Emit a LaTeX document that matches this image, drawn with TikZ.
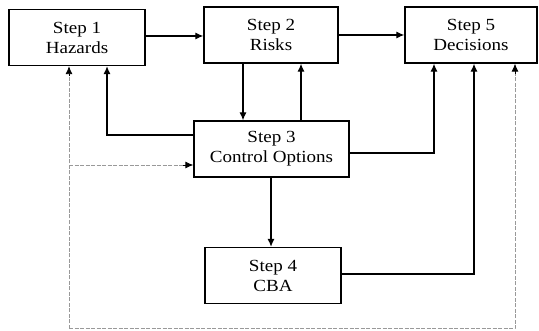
\documentclass[tikz,border=0pt]{standalone}
\usepackage{fontspec}
\setmainfont[FakeStretch=1.12]{Liberation Serif}
\usetikzlibrary{arrows.meta}
\begin{document}
\begin{tikzpicture}[x=1pt,y=1pt,
  stepbox/.style={draw, line width=1.3pt, minimum width=#1, minimum height=56pt, inner sep=0pt, align=center,
    font=\fontsize{17}{20}\selectfont},
  arr/.style={line width=1.2pt, -{Latex[length=8pt,width=7pt]}},
  dashline/.style={draw=gray!80, line width=0.8pt, dash pattern=on 4pt off 1.5pt}]
\useasboundingbox (0,0) rectangle (539,330);
\node[stepbox=136pt] (s1) at (77,292.5) {Step 1\\Hazards};
\node[stepbox=134pt] (s2) at (271,295) {Step 2\\Risks};
\node[stepbox=132pt] (s5) at (471,295) {Step 5\\Decisions};
\node[stepbox=155pt] (s3) at (271.5,181) {Step 3\\Control Options};
\node[stepbox=136pt] (s4) at (273,54.5) {Step 4\\CBA};
\coordinate (dl) at (69,1.5);
\coordinate (dr) at (515,1.5);
\coordinate (dm) at (69,165);
% solid connectors
\draw[arr] (s1.east |- 0,294) -- (s2.west |- 0,294);
\draw[arr] (s2.east |- 0,295) -- (s5.west |- 0,295);
\draw[arr] (s2.south -| 243,0) -- (s3.north -| 243,0);
\draw[arr] (s3.north -| 301,0) -- (s2.south -| 301,0);
\draw[arr] (s3.west |- 0,195) -| (s1.south -| 107,0);
\draw[arr] (s3.east |- 0,177) -| (s5.south -| 434,0);
\draw[arr] (s3.south -| 271,0) -- (s4.north -| 271,0);
\draw[arr] (s4.east |- 0,56) -| (s5.south -| 474,0);
% dashed feedback
\draw[dashline] (dl) -- ([yshift=-7pt]s1.south -| dl);
\draw[dashline] (dl) -- (dr) -- ([yshift=-7pt]s5.south -| dr);
\draw[dashline] (dm) -- ([xshift=-7pt]s3.west |- dm);
\draw[arr, line width=0.8pt] ([yshift=-10pt]s1.south -| dl) -- (s1.south -| dl);
\draw[arr, line width=0.8pt] ([yshift=-10pt]s5.south -| dr) -- (s5.south -| dr);
\draw[arr, line width=0.8pt] ([xshift=-10pt]s3.west |- dm) -- (s3.west |- dm);
\end{tikzpicture}
\end{document}
